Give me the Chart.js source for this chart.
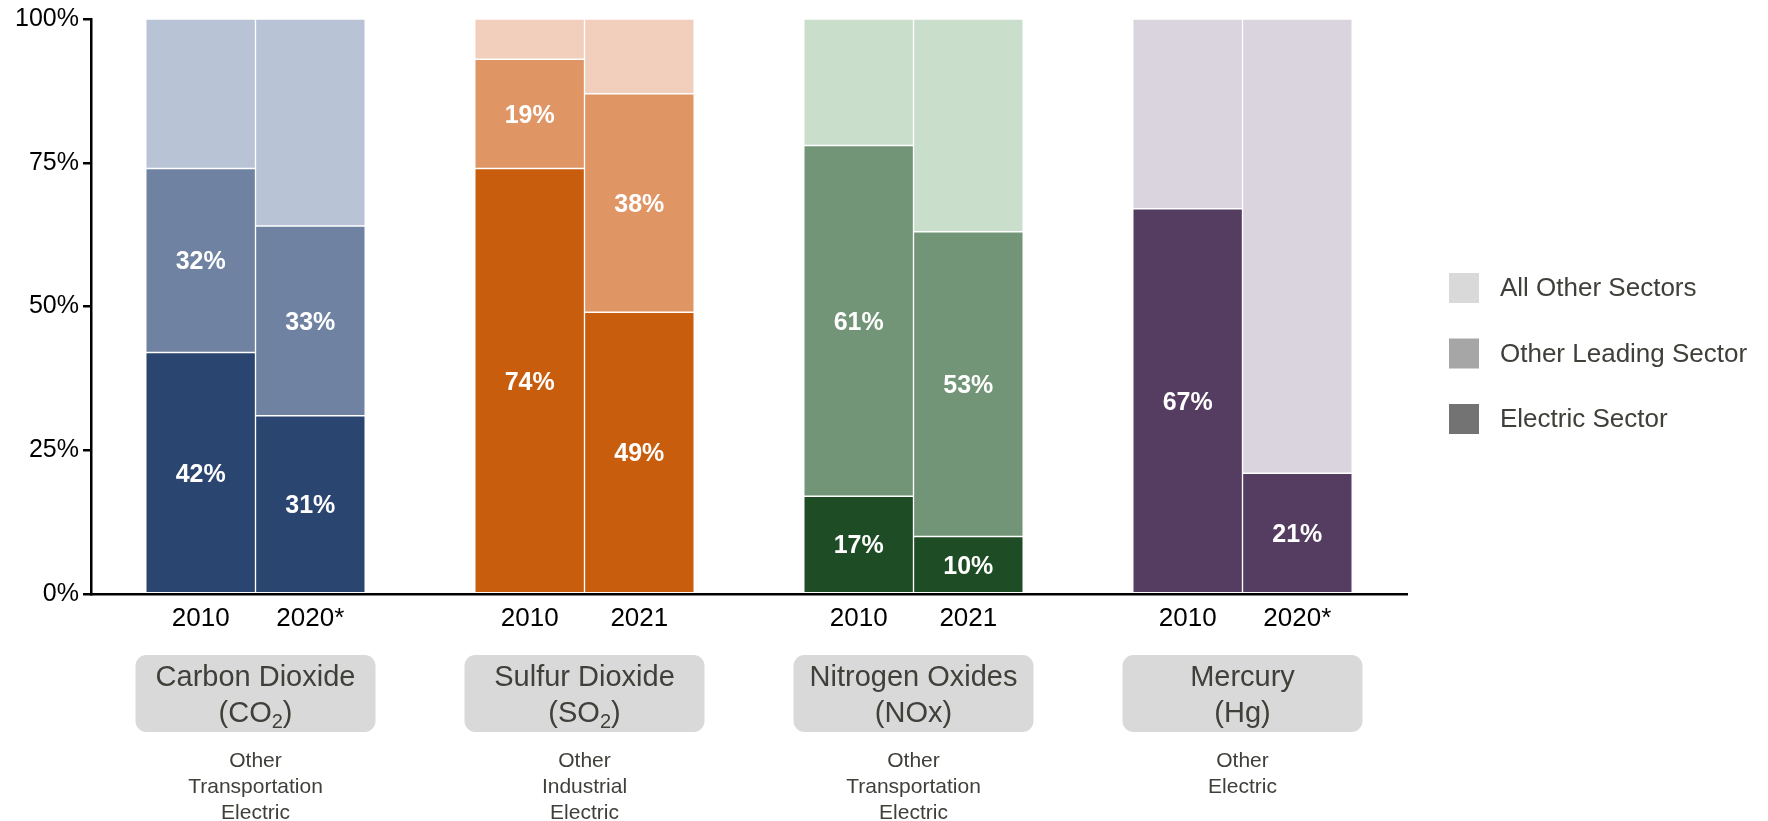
<!DOCTYPE html>
<html>
<head>
<meta charset="utf-8">
<script src="https://cdn.jsdelivr.net/npm/chart.js@4.4.1/dist/chart.umd.min.js"></script>
<style>
  html, body { margin: 0; padding: 0; background: #fff; }
  #wrap { width: 1768px; height: 821px; }
</style>
</head>
<body>
<div id="wrap"><canvas id="myChart" width="1768" height="821"></canvas></div>
<script>
// pollutants, shown as pairs of years
const pollutants = ['Carbon Dioxide', 'Sulfur Dioxide', 'Nitrogen Oxides', 'Mercury'];
// formula parts: normal, subscript, normal
const formulas = [['(CO', '2', ')'], ['(SO', '2', ')'], ['(NOx)'], ['(Hg)']];
const sectors = [
    ['Other', 'Transportation', 'Electric'],
    ['Other', 'Industrial', 'Electric'],
    ['Other', 'Transportation', 'Electric'],
    ['Other', 'Electric']
];
const years = ['2010', '2020*', '2010', '2021', '2010', '2021', '2010', '2020*'];
const barPos = [0, 1, 3, 4, 6, 7, 9, 10];
const groupPos = [0.5, 3.5, 6.5, 9.5];

// share of emissions, %
const electric = [42, 31, 74, 49, 17, 10, 67, 21];
const leading  = [32, 33, 19, 38, 61, 53, 0, 0];
const others   = [26, 36, 7, 13, 22, 37, 33, 79];

const yTicks = [0, 25, 50, 75, 100];
const legendNames = ['All Other Sectors', 'Other Leading Sector', 'Electric Sector'];

// colours per pollutant: dark / mid / light
const darkCol  = ['#2a4570', '#c95d0e', '#1e4c25', '#553d62'];
const midCol   = ['#7082a2', '#e09565', '#729577', '#9a8aa3'];
const lightCol = ['#b8c3d6', '#f2cebc', '#c9dfcb', '#d9d4dd'];
const legendCol = ['#d9d9d9', '#a6a6a6', '#737373'];

const FONT = '"Liberation Sans", Arial, sans-serif';
const TEXT = '#40403b';

const perBar = (cols) => barPos.map((p, i) => cols[Math.floor(i / 2)]);
const points = (vals) => barPos.map((x, i) => ({ x: x, y: vals[i] }));

const valueLabels = {
    id: 'valueLabels',
    afterDatasetsDraw(chart) {
        const { ctx } = chart;
        ctx.save();
        ctx.fillStyle = '#fff';
        ctx.font = 'bold 25px ' + FONT;
        ctx.textAlign = 'center';
        ctx.textBaseline = 'middle';
        [0, 1].forEach(di => {
            const meta = chart.getDatasetMeta(di);
            meta.data.forEach((el, i) => {
                const v = chart.data.datasets[di].data[i].y;
                if (!v) return;
                ctx.fillText(v + '%', el.x, (el.y + el.base) / 2 + 2);
            });
        });
        ctx.restore();
    }
};

const groupLabels = {
    id: 'groupLabels',
    afterDraw(chart) {
        const { ctx } = chart;
        const xs = chart.scales.x;
        ctx.save();
        groupPos.forEach((g, i) => {
            const cx = xs.getPixelForValue(g);
            ctx.fillStyle = '#d9d9d9';
            ctx.beginPath();
            ctx.roundRect(cx - 120, 655, 240, 77, 11);
            ctx.fill();

            ctx.fillStyle = TEXT;
            ctx.textBaseline = 'middle';
            ctx.textAlign = 'center';
            ctx.font = '29px ' + FONT;
            ctx.fillText(pollutants[i], cx, 678);

            // second line, with optional subscript
            const parts = formulas[i];
            const fonts = parts.map((p, k) => (k === 1 ? '20px ' : '29px ') + FONT);
            let total = 0;
            const widths = parts.map((p, k) => {
                ctx.font = fonts[k];
                const w = ctx.measureText(p).width;
                total += w;
                return w;
            });
            let x = cx - total / 2;
            ctx.textAlign = 'left';
            parts.forEach((p, k) => {
                ctx.font = fonts[k];
                ctx.fillText(p, x, k === 1 ? 722 : 714);
                x += widths[k];
            });

            ctx.textAlign = 'center';
            ctx.font = '21px ' + FONT;
            sectors[i].forEach((s, k) => ctx.fillText(s, cx, 761 + k * 26));
        });
        ctx.restore();
    }
};

const sideLegend = {
    id: 'sideLegend',
    afterDraw(chart) {
        const { ctx } = chart;
        ctx.save();
        ctx.font = '26px ' + FONT;
        ctx.textBaseline = 'middle';
        ctx.textAlign = 'left';
        legendNames.forEach((name, i) => {
            const y = 273 + i * 65.5;
            ctx.fillStyle = legendCol[i];
            ctx.fillRect(1449, y, 30, 30);
            ctx.fillStyle = TEXT;
            ctx.fillText(name, 1500, y + 16);
        });
        ctx.restore();
    }
};

const barStyle = { borderColor: '#fff', borderWidth: 1, borderSkipped: false, categoryPercentage: 1, barPercentage: 1 };

new Chart(document.getElementById('myChart'), {
    type: 'bar',
    data: {
        datasets: [
            Object.assign({ label: 'Electric Sector', data: points(electric), backgroundColor: perBar(darkCol) }, barStyle),
            Object.assign({ label: 'Other Leading Sector', data: points(leading), backgroundColor: perBar(midCol) }, barStyle),
            Object.assign({ label: 'All Other Sectors', data: points(others), backgroundColor: perBar(lightCol) }, barStyle)
        ]
    },
    options: {
        responsive: false,
        animation: false,
        layout: { padding: { top: 18, right: 361, left: 0, bottom: 0 } },
        plugins: { legend: { display: false }, tooltip: { enabled: false } },
        scales: {
            x: {
                type: 'linear',
                stacked: true,
                offset: false,
                min: -1,
                max: 11,
                grid: { display: false },
                border: { display: true, color: '#000', width: 2.5 },
                afterBuildTicks: scale => { scale.ticks = barPos.map(v => ({ value: v })); },
                afterFit: scale => { scale.height = 227; },
                ticks: {
                    autoSkip: false,
                    maxRotation: 0,
                    padding: 1,
                    color: '#000',
                    font: { family: FONT, size: 26 },
                    callback: (v) => years[barPos.indexOf(v)]
                }
            },
            y: {
                stacked: true,
                min: 0,
                max: 100,
                afterBuildTicks: scale => { scale.ticks = yTicks.map(v => ({ value: v })); },
                afterFit: scale => { scale.width = 91; },
                grid: { drawOnChartArea: false, drawTicks: true, tickLength: 8, color: '#000', lineWidth: 2.5 },
                border: { display: true, color: '#000', width: 2.5 },
                ticks: {
                    padding: 4,
                    color: '#000',
                    font: { family: FONT, size: 25 },
                    callback: v => v + '%'
                }
            }
        }
    },
    plugins: [valueLabels, groupLabels, sideLegend]
});
</script>
</body>
</html>
